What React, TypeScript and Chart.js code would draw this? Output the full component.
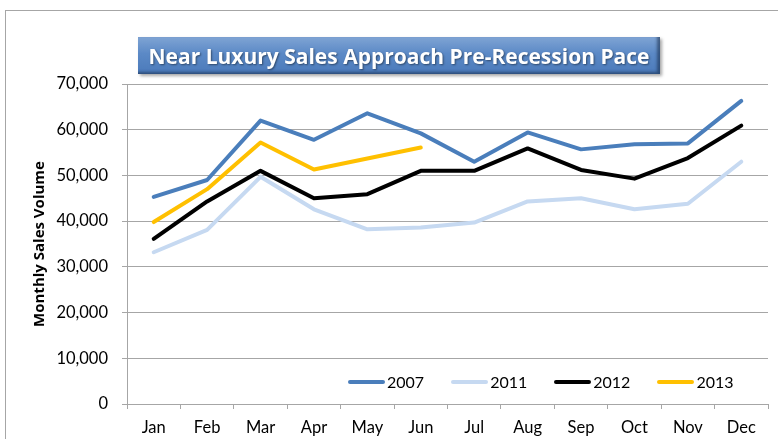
import React, { useEffect, useRef } from "react";
import { Chart, registerables } from "chart.js";

Chart.register(...registerables);

const months = ["Jan", "Feb", "Mar", "Apr", "May", "Jun", "Jul", "Aug", "Sep", "Oct", "Nov", "Dec"];
const sales2007 = [45300, 49000, 62000, 57800, 63600, 59200, 53000, 59400, 55700, 56800, 57000, 66300];
const sales2011 = [33200, 38100, 49700, 42600, 38200, 38600, 39700, 44300, 45000, 42600, 43800, 53000];
const sales2012 = [36100, 44300, 51000, 45000, 45900, 51000, 51000, 55900, 51200, 49300, 53800, 60900];
const sales2013 = [39800, 47000, 57200, 51300, 53700, 56100, null, null, null, null, null, null];
const seriesNames = ["2007", "2011", "2012", "2013"];
const seriesColors = ["#4a7ebb", "#c6d9f1", "#000000", "#ffc000"];
const titleText = "Near Luxury Sales Approach Pre-Recession Pace";
const yAxisTitle = "Monthly Sales Volume";

const FONT = "Lato, 'Open Sans', sans-serif";
const BOLD_FONT = "'Open Sans', sans-serif";

export default function App() {
  const canvasRef = useRef<HTMLCanvasElement | null>(null);

  useEffect(() => {
    document.body.style.margin = "0";
    const ctx = canvasRef.current!.getContext("2d")!;
    const allData = [sales2007, sales2011, sales2012, sales2013];
    const chart = new Chart(ctx, {
      type: "line",
      data: {
        labels: months,
        datasets: allData.map((d, i) => ({
          label: seriesNames[i],
          data: d,
          borderColor: seriesColors[i],
          backgroundColor: seriesColors[i],
          borderWidth: 4,
          pointRadius: 0,
          pointHoverRadius: 0,
          tension: 0,
          fill: false,
          borderJoinStyle: "round" as const,
          borderCapStyle: "round" as const,
        })),
      },
      options: {
        animation: false,
        responsive: false,
        maintainAspectRatio: false,
        layout: { padding: { left: 31, right: 10, top: 84, bottom: 0 } },
        plugins: {
          legend: { display: false },
          title: { display: false },
          tooltip: { enabled: false },
        },
        scales: {
          x: {
            type: "category",
            offset: true,
            grid: {
              offset: true,
              drawOnChartArea: false,
              drawTicks: true,
              tickLength: 5,
              color: "#a6a6a6",
            },
            border: { color: "#a6a6a6", width: 1 },
            ticks: {
              color: "#000",
              font: { family: FONT, size: 16.5 },
              padding: 9,
              maxRotation: 0,
              autoSkip: false,
            },
            afterFit: (s: any) => {
              s.height = 35;
            },
          },
          y: {
            min: 0,
            max: 70000,
            grid: { color: "#a6a6a6", tickLength: 5, lineWidth: 1 },
            border: { color: "#a6a6a6", width: 1 },
            ticks: {
              stepSize: 10000,
              color: "#000",
              font: { family: FONT, size: 16.5 },
              padding: 14,
              callback: (v: any) => Number(v).toLocaleString("en-US"),
            },
            title: {
              display: true,
              text: yAxisTitle,
              color: "#000",
              font: { family: BOLD_FONT, size: 15, weight: "bold" },
              padding: { top: 0, bottom: 0 },
            },
            afterFit: (s: any) => {
              s.width = 96;
            },
          },
        },
      },
    });
    return () => chart.destroy();
  }, []);

  return (
    <div
      style={{
        position: "fixed",
        left: 0,
        top: 0,
        width: 778,
        height: 439,
        overflow: "hidden",
        background: "#fff",
        fontFamily: FONT,
      }}
    >
      <div
        style={{
          position: "absolute",
          left: 5,
          top: 10,
          width: 900,
          height: 700,
          border: "1px solid #a6a6a6",
        }}
      />
      <canvas ref={canvasRef} width={778} height={439} style={{ position: "absolute", left: 0, top: 0 }} />
      <div
        style={{
          position: "absolute",
          left: 138,
          top: 37,
          width: 522,
          height: 37,
          background: "linear-gradient(#7fa4d4 0%, #5b89c6 45%, #4b7aba 100%)",
          boxShadow: "inset -3px -2px 3px rgba(20,40,70,0.55), 2px 2px 3px rgba(0,0,0,0.35)",
          display: "flex",
          alignItems: "center",
          justifyContent: "center",
          color: "#fff",
          fontFamily: BOLD_FONT,
          fontWeight: 700,
          fontSize: 21,
          textShadow: "1px 1px 2px rgba(0,0,0,0.45)",
          whiteSpace: "nowrap",
        }}
      >
        {titleText}
      </div>
      <div
        style={{
          position: "absolute",
          left: 348,
          top: 372,
          display: "flex",
          alignItems: "center",
          gap: 27,
          fontSize: 16,
          color: "#000",
        }}
      >
        {seriesNames.map((n, i) => (
          <div key={n} style={{ display: "flex", alignItems: "center" }}>
            <div
              style={{
                width: 37,
                height: 4,
                borderRadius: 2,
                background: seriesColors[i],
                marginRight: 2,
              }}
            />
            <span>{n}</span>
          </div>
        ))}
      </div>
    </div>
  );
}
